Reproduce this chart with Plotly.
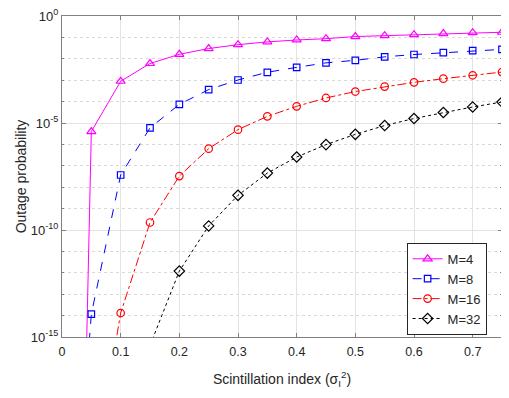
import plotly.graph_objects as go

# Scintillation index values (x = 0 entries only define the steep drop below the axis)
x_vals = [0.0, 0.05, 0.1, 0.15, 0.2, 0.25, 0.3, 0.35, 0.4, 0.45, 0.5, 0.55, 0.6, 0.65, 0.7, 0.75]

# log10 of outage probability
m4_log = [-67, -5.4, -3.05, -2.22, -1.79, -1.52, -1.34, -1.21, -1.12, -1.06, -0.96, -0.92, -0.87, -0.82, -0.78, -0.76]
m8_log = [-32, -13.93, -7.43, -5.23, -4.13, -3.44, -2.99, -2.63, -2.40, -2.19, -2.07, -1.91, -1.80, -1.71, -1.62, -1.56]
m16_log = [-40, -22.0, -13.88, -9.65, -7.48, -6.20, -5.31, -4.69, -4.22, -3.83, -3.53, -3.30, -3.10, -2.93, -2.77, -2.62]
m32_log = [-60, -35, -24, -15.4, -11.92, -9.81, -8.38, -7.34, -6.59, -6.01, -5.53, -5.12, -4.79, -4.51, -4.25, -4.02]

series_names = ["M=4", "M=8", "M=16", "M=32"]
series_data = [m4_log, m8_log, m16_log, m32_log]
colors = ["#FF00FF", "#0000FF", "#FF0000", "#000000"]
dashes = ["solid", "dash", "dashdot", "dot"]
symbols = ["triangle-up-open", "square-open", "circle-open", "diamond-open"]
sizes = [8, 6.5, 7.5, 8]

y_tickvals = [1, 1e-5, 1e-10, 1e-15]
y_ticktext = ["10<sup>0</sup>", "10<sup>-5</sup>", "10<sup>-10</sup>", "10<sup>-15</sup>"]
x_tickvals = [0, 0.1, 0.2, 0.3, 0.4, 0.5, 0.6, 0.7]
x_ticktext = ["0", "0.1", "0.2", "0.3", "0.4", "0.5", "0.6", "0.7"]

fig = go.Figure()
for name, logs, c, d, s, sz in zip(series_names, series_data, colors, dashes, symbols, sizes):
    fig.add_trace(go.Scatter(
        x=x_vals, y=[10 ** v for v in logs], name=name, mode="lines+markers",
        line=dict(color=c, width=1, dash=d),
        marker=dict(symbol=s, size=sz, color=c, line=dict(width=1.2, color=c)),
        cliponaxis=True,
    ))

font_family = "Liberation Sans, Arial, sans-serif"
axis_color = "#808080"
text_color = "#262626"
# the page body adds an 8 px offset, so the figure is 8 px smaller and margins compensate
fig.update_layout(
    width=501, height=390,
    margin=dict(l=54, r=7, t=8, b=61),
    paper_bgcolor="white", plot_bgcolor="white",
    font=dict(family=font_family, size=12, color=text_color),
    showlegend=True,
    legend=dict(
        x=0.965, y=0.15, xanchor="right", yanchor="middle",
        bgcolor="white", bordercolor=text_color, borderwidth=1,
        font=dict(size=13, color=text_color),
        tracegroupgap=0, itemwidth=30,
    ),
)
fig.update_xaxes(
    range=[0, 0.75], tickvals=x_tickvals, ticktext=x_ticktext,
    automargin=False,
    showgrid=True, gridcolor="#e3e3e3", gridwidth=1,
    showline=True, linecolor=axis_color, linewidth=1, mirror="ticks",
    ticks="inside", ticklen=4, tickcolor=axis_color,
    zeroline=False, ticklabelstandoff=3,
    tickfont=dict(size=12.5, color=text_color),
    title=dict(text="Scintillation index (σ<sub>I</sub><sup>2</sup>)", font=dict(size=14, color=text_color), standoff=16),
)
fig.update_yaxes(
    type="log", range=[-15, 0], tickvals=y_tickvals, ticktext=y_ticktext,
    automargin=False, ticklabeloverflow="allow",
    showgrid=True, gridcolor="#e3e3e3", gridwidth=1,
    showline=True, linecolor=axis_color, linewidth=1, mirror="ticks",
    ticks="inside", ticklen=4, tickcolor=axis_color,
    zeroline=False,
    tickfont=dict(size=13, color=text_color),
    minor=dict(dtick=1, showgrid=True, gridcolor="#d9d9d9", griddash="dot", ticks="inside", ticklen=2, tickcolor=axis_color),
    title=dict(text="Outage probability", font=dict(size=14, color=text_color), standoff=0),
)

fig.write_html("out.html")
